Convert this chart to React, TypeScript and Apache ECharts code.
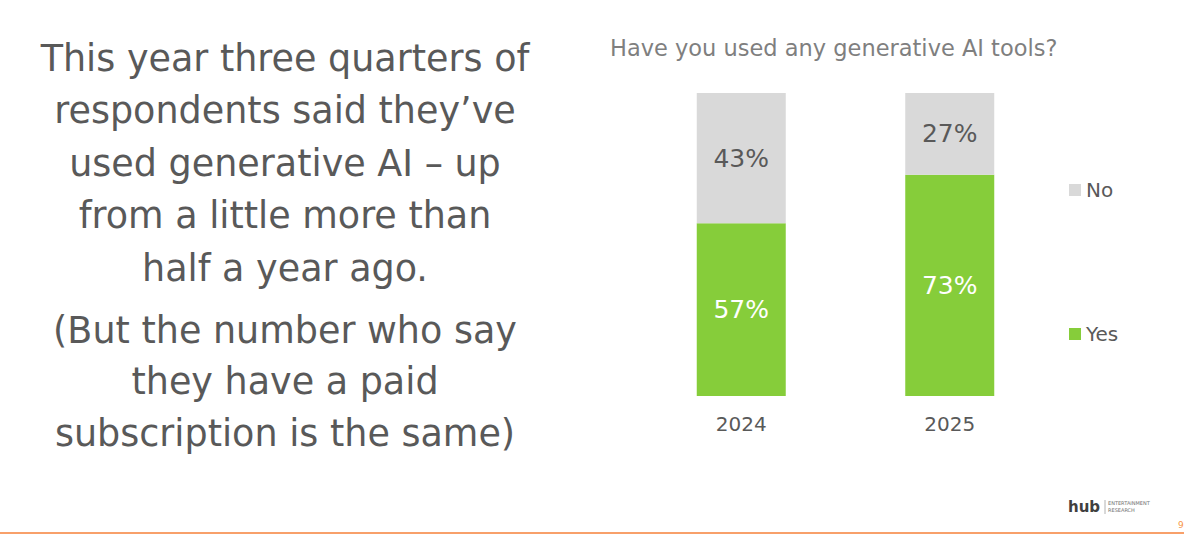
import React, { useEffect, useRef } from "react";
import * as echarts from "echarts";

const categories = ["2024", "2025"];
const yesValues = [57, 73];
const noValues = [43, 27];
const seriesNames = ["No", "Yes"];
const chartTitle = "Have you used any generative AI tools?";
const leftLines1 = [
  "This year three quarters of",
  "respondents said they\u2019ve",
  "used generative AI \u2013 up",
  "from a little more than",
  "half a year ago.",
];
const leftLines2 = [
  "(But the number who say",
  "they have a paid",
  "subscription is the same)",
];

const FONT = "DejaVu Sans";

export default function App() {
  const ref = useRef<HTMLDivElement>(null);
  useEffect(() => {
    if (!ref.current) return;
    const chart = echarts.init(ref.current, undefined, { renderer: "svg" });
    const textEls: any[] = [];
    leftLines1.forEach((t, i) => {
      textEls.push({
        type: "text",
        x: 285,
        y: 58 + i * 52.5,
        style: { text: t, fill: "#595959", font: `36.5px "${FONT}"`, align: "center", verticalAlign: "middle" },
      });
    });
    leftLines2.forEach((t, i) => {
      textEls.push({
        type: "text",
        x: 285,
        y: 330 + i * 51.5,
        style: { text: t, fill: "#595959", font: `36.5px "${FONT}"`, align: "center", verticalAlign: "middle" },
      });
    });
    chart.setOption({
      animation: false,
      backgroundColor: "#ffffff",
      title: {
        text: chartTitle,
        left: 605,
        top: 31,
        textStyle: { fontFamily: FONT, fontSize: 22.5, fontWeight: "normal", color: "#7f7f7f" },
      },
      legend: {
        data: seriesNames,
        orient: "vertical",
        left: 1064,
        top: 175,
        itemGap: 124,
        itemWidth: 12,
        itemHeight: 12,
        icon: "rect",
        textStyle: { fontFamily: FONT, fontSize: 20, color: "#595959" },
      },
      grid: { left: 637, right: 130, top: 93, bottom: 139, containLabel: false },
      xAxis: {
        type: "category",
        data: categories,
        axisLine: { show: false },
        axisTick: { show: false },
        axisLabel: { fontFamily: FONT, fontSize: 20, color: "#595959", margin: 18 },
      },
      yAxis: {
        type: "value",
        min: 0,
        max: 100,
        show: false,
        splitLine: { show: false },
      },
      series: [
        {
          name: "Yes",
          type: "bar",
          stack: "total",
          data: yesValues,
          barWidth: 89,
          itemStyle: { color: "#86cd3a" },
          label: {
            show: true,
            position: "inside",
            formatter: "{c}%",
            fontFamily: FONT,
            fontSize: 25,
            color: "#ffffff",
          },
        },
        {
          name: "No",
          type: "bar",
          stack: "total",
          data: noValues,
          barWidth: 89,
          itemStyle: { color: "#d9d9d9" },
          label: {
            show: true,
            position: "inside",
            formatter: "{c}%",
            fontFamily: FONT,
            fontSize: 25,
            color: "#595959",
          },
        },
      ],
      graphic: [
        ...textEls,
        {
          type: "line",
          shape: { x1: 0, y1: 533, x2: 1184, y2: 533 },
          style: { stroke: "#f8a06a", lineWidth: 2 },
        },
        {
          type: "text",
          x: 1178,
          y: 525,
          style: { text: "9", fill: "#f79646", font: `9px "${FONT}"`, align: "left", verticalAlign: "middle" },
        },
        {
          type: "text",
          x: 1068,
          y: 507,
          style: { text: "hub", fill: "#404040", font: `bold 15px "${FONT}"`, align: "left", verticalAlign: "middle" },
        },
        {
          type: "line",
          shape: { x1: 1105, y1: 500, x2: 1105, y2: 514 },
          style: { stroke: "#a0a0a0", lineWidth: 0.8 },
        },
        {
          type: "text",
          x: 1108,
          y: 503,
          style: { text: "ENTERTAINMENT", fill: "#707070", font: `5px "${FONT}"`, align: "left", verticalAlign: "middle" },
        },
        {
          type: "text",
          x: 1108,
          y: 510,
          style: { text: "RESEARCH", fill: "#707070", font: `5px "${FONT}"`, align: "left", verticalAlign: "middle" },
        },
      ],
    });
    return () => chart.dispose();
  }, []);
  return <div ref={ref} style={{ position: "absolute", left: 0, top: 0, width: 1184, height: 535 }} />;
}
